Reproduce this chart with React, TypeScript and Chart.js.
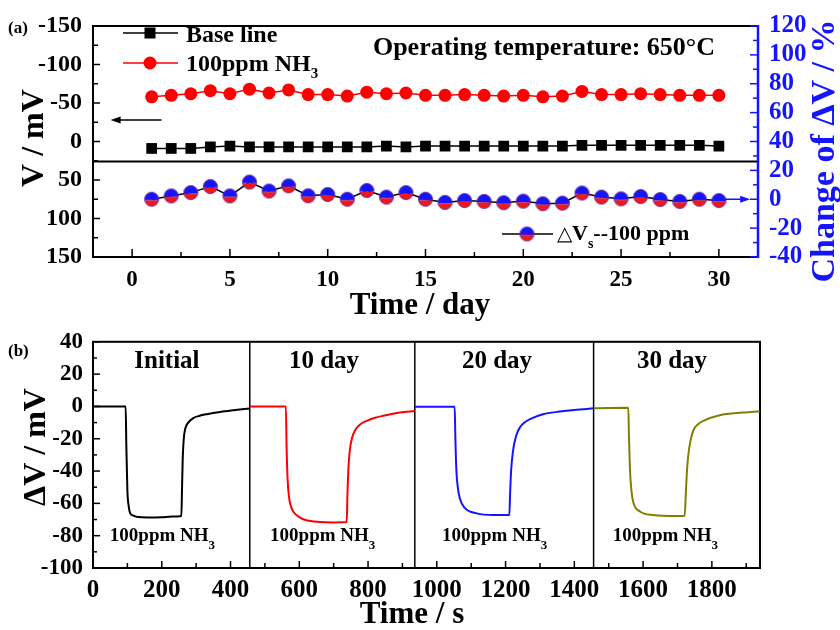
import React, { useEffect, useRef } from "react";
import { Chart, registerables } from "chart.js";
Chart.register(...registerables);

// ---------- Panel (a) data ----------
const DAYS = [1, 2, 3, 4, 5, 6, 7, 8, 9, 10, 11, 12, 13, 14, 15, 16, 17, 18, 19, 20, 21, 22, 23, 24, 25, 26, 27, 28, 29, 30];
const BASELINE_MV = [9, 9, 9, 7, 6, 7, 7, 7, 7, 7, 7, 7, 6, 7, 6, 6, 6, 6, 6, 6, 6, 6, 5, 5, 5, 5, 5, 5, 5, 6];
const NH3_MV = [-58, -60, -62, -66, -62, -68, -63, -67, -61, -61, -59, -64, -62, -63, -60, -60, -61, -60, -59, -60, -58, -59, -65, -61, -61, -62, -61, -60, -60, -60];
const DELTA_VS_PCT = [0, 2.3, 4.6, 8.8, 2.3, 11.9, 5.7, 9.3, 2.4, 3.3, 0, 6.1, 1.5, 4.6, 0, -2.2, -0.9, -1.5, -2.4, -1.3, -3.1, -2.7, 4.3, 1.5, 0.3, 1.9, -0.2, -1.5, 0, -0.9];
const DAY_TICKS = [0, 5, 10, 15, 20, 25, 30];
const MV_TICKS = [-150, -100, -50, 0, 50, 100, 150];
const PCT_TICKS = [-40, -20, 0, 20, 40, 60, 80, 100, 120];
const DIVIDER_MV = 26;
const LEFT_ARROW = { fromDay: 1.5, toDay: -1.1, mv: -28 };
const RIGHT_ARROW = { fromDay: 30, toDay: 31.6, pct: 0 };

// ---------- Panel (b) data ----------
const INITIAL_T = [0, 50, 95, 97, 100, 104, 108, 116, 130, 160, 200, 230, 257, 259, 261, 264, 268, 277, 292, 310, 331, 370, 408, 456];
const INITIAL_V = [0, 0, 0, -25, -52, -62, -66, -67.5, -68.5, -68.8, -68.6, -68.2, -67.8, -50, -32, -20, -14, -10, -7.2, -5.8, -4.8, -3.4, -2.4, -1.3];
const DAY10_T = [456, 500, 561, 563, 566, 570, 576, 584, 600, 621, 660, 698, 738, 740, 743, 747, 754, 762, 778, 796, 820, 844, 893, 936];
const DAY10_V = [0, 0, 0, -25, -45, -56, -62, -65.5, -68.5, -70.5, -71.5, -71.8, -71.6, -55, -38, -27, -19, -14.9, -11, -8.9, -7, -5.8, -3.8, -2.8];
const DAY20_T = [936, 1000, 1052, 1054, 1057, 1061, 1067, 1082, 1116, 1164, 1211, 1213, 1216, 1222, 1231, 1242, 1256, 1271, 1309, 1358, 1400, 1456];
const DAY20_V = [-0.2, -0.2, -0.2, -20, -40, -50, -57, -63, -66.2, -67.2, -67.2, -55, -40, -27, -18, -12.9, -9.8, -7.8, -4.8, -3.2, -2.2, -1.2];
const DAY30_T = [1456, 1500, 1557, 1559, 1562, 1566, 1571, 1591, 1629, 1697, 1721, 1724, 1727, 1731, 1738, 1746, 1760, 1775, 1823, 1891, 1939];
const DAY30_V = [-1.2, -0.9, -0.8, -20, -40, -52, -59, -65, -67.2, -67.8, -67.6, -55, -42, -31, -21, -14.9, -11, -8.9, -5.4, -3.8, -3.0];
const TIME_TICKS = [0, 200, 400, 600, 800, 1000, 1200, 1400, 1600, 1800];
const DV_TICKS = [-100, -80, -60, -40, -20, 0, 20, 40];
const PANEL_SEPARATORS_S = [456, 936, 1456];
const PANEL_LABELS = ["Initial", "10 day", "20 day", "30 day"];
const PANEL_LABEL_T = [215, 672, 1175, 1684];
const NH3_LABEL_T = [49, 515, 1015, 1512];

const FONT = "'Liberation Serif', 'Times New Roman', serif";
const BLUE = "#1414ff";
const RED = "#ff0000";
const OLIVE = "#808000";

type Part = { text: string; size: number; bold?: boolean; dy?: number };

function drawRich(ctx: CanvasRenderingContext2D, parts: Part[], x: number, y: number, align: "left" | "center" | "right", color: string) {
  ctx.save();
  ctx.fillStyle = color;
  ctx.textBaseline = "alphabetic";
  ctx.textAlign = "left";
  let w = 0;
  for (const p of parts) {
    ctx.font = `${p.bold === false ? "" : "bold "}${p.size}px ${FONT}`;
    w += ctx.measureText(p.text).width;
  }
  let cx = align === "center" ? x - w / 2 : align === "right" ? x - w : x;
  for (const p of parts) {
    ctx.font = `${p.bold === false ? "" : "bold "}${p.size}px ${FONT}`;
    ctx.fillText(p.text, cx, y + (p.dy || 0));
    cx += ctx.measureText(p.text).width;
  }
  ctx.restore();
}

function drawRotated(ctx: CanvasRenderingContext2D, text: string, x: number, y: number, size: number, color: string) {
  ctx.save();
  ctx.translate(x, y);
  ctx.rotate(-Math.PI / 2);
  ctx.fillStyle = color;
  ctx.font = `bold ${size}px ${FONT}`;
  ctx.textAlign = "center";
  ctx.textBaseline = "alphabetic";
  ctx.fillText(text, 0, 0);
  ctx.restore();
}

function line(ctx: CanvasRenderingContext2D, x1: number, y1: number, x2: number, y2: number) {
  ctx.beginPath();
  ctx.moveTo(x1, y1);
  ctx.lineTo(x2, y2);
  ctx.stroke();
}

function arrow(ctx: CanvasRenderingContext2D, x1: number, x2: number, y: number, color: string) {
  ctx.save();
  ctx.strokeStyle = color;
  ctx.fillStyle = color;
  ctx.lineWidth = 1.5;
  const dir = Math.sign(x2 - x1);
  line(ctx, x1, y, x2 - dir * 6, y);
  ctx.beginPath();
  ctx.moveTo(x2, y);
  ctx.lineTo(x2 - dir * 10, y - 3.5);
  ctx.lineTo(x2 - dir * 10, y + 3.5);
  ctx.closePath();
  ctx.fill();
  ctx.restore();
}

function makeHalfMarker(r: number): HTMLCanvasElement {
  const s = Math.ceil(r * 2 + 3);
  const c = document.createElement("canvas");
  c.width = s;
  c.height = s;
  const g = c.getContext("2d")!;
  const m = s / 2;
  g.save();
  g.beginPath();
  g.arc(m, m, r, 0, Math.PI * 2);
  g.clip();
  g.fillStyle = BLUE;
  g.fillRect(0, 0, s, m + 1);
  g.fillStyle = "#f01818";
  g.fillRect(0, m + 1, s, s);
  g.restore();
  g.strokeStyle = "#6a2a9a";
  g.lineWidth = 1;
  g.beginPath();
  g.arc(m, m, r, 0, Math.PI * 2);
  g.stroke();
  return c;
}

function drawSquare(ctx: CanvasRenderingContext2D, x: number, y: number, s: number) {
  ctx.fillRect(x - s / 2, y - s / 2, s, s);
}

const tickFont = (size: number) => ({ family: FONT, size, weight: "bold" as const });
const plain = (v: any) => String(v);

export default function App() {
  const topRef = useRef<HTMLCanvasElement>(null);
  const botRef = useRef<HTMLCanvasElement>(null);

  useEffect(() => {
    document.body.style.margin = "0";
    const half = makeHalfMarker(7);

    const topDecor = {
      id: "topDecor",
      beforeDatasetsDraw(chart: any) {
        const { ctx, chartArea: a, scales } = chart;
        const x = scales.x, y = scales.y, y2 = scales.y2;
        ctx.save();
        ctx.strokeStyle = "#000";
        ctx.lineWidth = 2;
        ctx.beginPath();
        ctx.moveTo(a.right, a.top);
        ctx.lineTo(a.left, a.top);
        ctx.lineTo(a.left, a.bottom);
        ctx.lineTo(a.right, a.bottom);
        ctx.stroke();
        const yd = y.getPixelForValue(DIVIDER_MV);
        line(ctx, a.left, yd, a.right, yd);
        ctx.lineWidth = 1.5;
        for (let v = -150; v <= 150; v += 25) {
          const py = y.getPixelForValue(v);
          line(ctx, a.left, py, a.left + (v % 50 === 0 ? 7 : 5), py);
        }
        for (let d = 0; d <= 30; d += 2.5) {
          const px = x.getPixelForValue(d);
          line(ctx, px, a.bottom, px, a.bottom - (d % 5 === 0 ? 8 : 5));
        }
        ctx.strokeStyle = BLUE;
        for (let v = -40; v <= 120; v += 10) {
          const py = y2.getPixelForValue(v);
          line(ctx, a.right, py, a.right - (v % 20 === 0 ? 8 : 5), py);
        }
        ctx.lineWidth = 2.5;
        line(ctx, a.right, a.top - 1, a.right, a.bottom + 1);
        ctx.restore();
      },
      afterDraw(chart: any) {
        const { ctx, scales } = chart;
        const x = scales.x, y = scales.y, y2 = scales.y2;
        arrow(ctx, x.getPixelForValue(LEFT_ARROW.fromDay), x.getPixelForValue(LEFT_ARROW.toDay), y.getPixelForValue(LEFT_ARROW.mv), "#000");
        arrow(ctx, x.getPixelForValue(RIGHT_ARROW.fromDay), x.getPixelForValue(RIGHT_ARROW.toDay), y2.getPixelForValue(RIGHT_ARROW.pct), BLUE);
        ctx.save();
        ctx.strokeStyle = "#000";
        ctx.lineWidth = 1.5;
        line(ctx, 123, 33, 178, 33);
        ctx.fillStyle = "#000";
        drawSquare(ctx, 150, 33, 11);
        ctx.strokeStyle = RED;
        line(ctx, 123, 63, 178, 63);
        ctx.fillStyle = RED;
        ctx.beginPath();
        ctx.arc(150, 63, 6.5, 0, Math.PI * 2);
        ctx.fill();
        ctx.restore();
        drawRich(ctx, [{ text: "Base line", size: 24 }], 186, 42, "left", "#000");
        drawRich(ctx, [{ text: "100ppm NH", size: 24 }, { text: "3", size: 15, dy: 7 }], 186, 71, "left", "#000");
        drawRich(ctx, [{ text: "Operating temperature: 650°C", size: 26 }], 715, 55, "right", "#000");
        ctx.save();
        ctx.strokeStyle = "#000";
        ctx.lineWidth = 1.5;
        line(ctx, 502, 234, 553, 234);
        ctx.drawImage(half, 527 - half.width / 2, 234 - half.height / 2);
        ctx.restore();
        drawRich(ctx, [
          { text: "△", size: 20, bold: false },
          { text: "V", size: 22 },
          { text: "s", size: 14, dy: 8 },
          { text: "--100 ppm", size: 22 },
        ], 557, 240, "left", "#000");
        drawRich(ctx, [{ text: "(a)", size: 17 }], 8, 33, "left", "#000");
        drawRotated(ctx, "V / mV", 43, 138, 32, "#000");
        drawRotated(ctx, "Change of ΔV / %", 834, 151, 34, BLUE);
        drawRich(ctx, [{ text: "Time / day", size: 31 }], 420, 314, "center", "#000");
      },
    };

    const top = new Chart(topRef.current!, {
      type: "line",
      data: {
        datasets: [
          {
            label: "Base line",
            data: DAYS.map((d, i) => ({ x: d, y: BASELINE_MV[i] })),
            yAxisID: "y",
            borderColor: "#000",
            backgroundColor: "#000",
            borderWidth: 1.5,
            pointStyle: "rect",
            pointRadius: 7.6,
            pointBorderWidth: 0,
          },
          {
            label: "100ppm NH3",
            data: DAYS.map((d, i) => ({ x: d, y: NH3_MV[i] })),
            yAxisID: "y",
            borderColor: RED,
            backgroundColor: RED,
            borderWidth: 1.5,
            pointStyle: "circle",
            pointRadius: 6.5,
            pointBorderWidth: 0,
          },
          {
            label: "ΔVs--100 ppm",
            data: DAYS.map((d, i) => ({ x: d, y: DELTA_VS_PCT[i] })),
            yAxisID: "y2",
            borderColor: "#000",
            backgroundColor: BLUE,
            borderWidth: 1.5,
            pointStyle: half as any,
            pointRadius: 7,
          },
        ],
      },
      options: {
        responsive: false,
        animation: false,
        events: [],
        layout: { padding: { top: 24, left: 0, right: 0, bottom: 0 } },
        plugins: { legend: { display: false }, tooltip: { enabled: false } },
        scales: {
          x: {
            type: "linear",
            min: -2,
            max: 32,
            grid: { display: false, drawTicks: false },
            border: { display: false },
            ticks: { padding: 9, color: "#000", font: tickFont(23), maxRotation: 0, autoSkip: false, callback: plain },
            afterBuildTicks: (s: any) => { s.ticks = DAY_TICKS.map((v) => ({ value: v })); },
            afterFit: (s: any) => { s.height = 73; },
          },
          y: {
            type: "linear",
            position: "left",
            reverse: true,
            min: -150,
            max: 150,
            grid: { display: false, drawTicks: false },
            border: { display: false },
            ticks: { padding: 11, color: "#000", font: tickFont(24), autoSkip: false, callback: plain },
            afterBuildTicks: (s: any) => { s.ticks = MV_TICKS.map((v) => ({ value: v })); },
            afterFit: (s: any) => { s.width = 93; },
          },
          y2: {
            type: "linear",
            position: "right",
            min: -40,
            max: 120,
            grid: { display: false, drawTicks: false },
            border: { display: false },
            ticks: { padding: 11, color: BLUE, font: tickFont(25), autoSkip: false, callback: plain },
            afterBuildTicks: (s: any) => { s.ticks = PCT_TICKS.map((v) => ({ value: v })); },
            afterFit: (s: any) => { s.width = 82; },
          },
        },
      },
      plugins: [topDecor],
    });

    const OFF = 318;
    const botDecor = {
      id: "botDecor",
      beforeDatasetsDraw(chart: any) {
        const { ctx, chartArea: a, scales } = chart;
        const x = scales.x, y = scales.y;
        ctx.save();
        ctx.strokeStyle = "#000";
        ctx.lineWidth = 1.5;
        for (let v = -100; v <= 40; v += 10) {
          const py = y.getPixelForValue(v);
          line(ctx, a.left, py, a.left + (v % 20 === 0 ? 7 : 4), py);
        }
        for (let t = 0; t <= 1900; t += 100) {
          const px = x.getPixelForValue(t);
          line(ctx, px, a.bottom, px, a.bottom - (t % 200 === 0 ? 7 : 5));
        }
        for (const s of PANEL_SEPARATORS_S) {
          const px = x.getPixelForValue(s);
          line(ctx, px, a.top, px, a.bottom);
        }
        ctx.lineWidth = 2;
        ctx.strokeRect(a.left, a.top, a.right - a.left, a.bottom - a.top);
        ctx.restore();
      },
      afterDraw(chart: any) {
        const { ctx, scales } = chart;
        const x = scales.x;
        PANEL_LABELS.forEach((lab, i) => {
          drawRich(ctx, [{ text: lab, size: 25 }], x.getPixelForValue(PANEL_LABEL_T[i]), 368 - OFF, "center", "#000");
          drawRich(ctx, [{ text: "100ppm NH", size: 19 }, { text: "3", size: 13, dy: 8 }], x.getPixelForValue(NH3_LABEL_T[i]), 541 - OFF, "left", "#000");
        });
        drawRich(ctx, [{ text: "(b)", size: 17 }], 8, 356 - OFF, "left", "#000");
        drawRotated(ctx, "ΔV / mV", 45, 447 - OFF, 32, "#000");
        drawRich(ctx, [{ text: "Time / s", size: 31 }], 412, 623 - OFF, "center", "#000");
      },
    };

    const mk = (ts: number[], vs: number[]) => ts.map((t, i) => ({ x: t, y: vs[i] }));
    const lineDs = (label: string, ts: number[], vs: number[], color: string) => ({
      label,
      data: mk(ts, vs),
      borderColor: color,
      backgroundColor: color,
      borderWidth: 2,
      pointRadius: 0,
      cubicInterpolationMode: "monotone" as const,
    });

    const bot = new Chart(botRef.current!, {
      type: "line",
      data: {
        datasets: [
          lineDs("Initial", INITIAL_T, INITIAL_V, "#000"),
          lineDs("10 day", DAY10_T, DAY10_V, RED),
          lineDs("20 day", DAY20_T, DAY20_V, BLUE),
          lineDs("30 day", DAY30_T, DAY30_V, OLIVE),
        ],
      },
      options: {
        responsive: false,
        animation: false,
        events: [],
        layout: { padding: { top: 18, left: 0, right: 80, bottom: 0 } },
        plugins: { legend: { display: false }, tooltip: { enabled: false } },
        scales: {
          x: {
            type: "linear",
            min: 0,
            max: 1940,
            grid: { display: false, drawTicks: false },
            border: { display: false },
            ticks: { padding: 8, color: "#000", font: tickFont(25), maxRotation: 0, autoSkip: false, callback: plain },
            afterBuildTicks: (s: any) => { s.ticks = TIME_TICKS.map((v) => ({ value: v })); },
            afterFit: (s: any) => { s.height = 62; },
          },
          y: {
            type: "linear",
            min: -100,
            max: 40,
            grid: { display: false, drawTicks: false },
            border: { display: false },
            ticks: { padding: 10, color: "#000", font: tickFont(23), autoSkip: false, callback: plain },
            afterBuildTicks: (s: any) => { s.ticks = DV_TICKS.map((v) => ({ value: v })); },
            afterFit: (s: any) => { s.width = 93; },
          },
        },
      },
      plugins: [botDecor],
    });

    return () => {
      top.destroy();
      bot.destroy();
    };
  }, []);

  return (
    <div style={{ position: "relative", width: 840, height: 630, background: "#fff" }}>
      <canvas ref={topRef} width={840} height={330} style={{ position: "absolute", left: 0, top: 0 }} />
      <canvas ref={botRef} width={840} height={312} style={{ position: "absolute", left: 0, top: 318 }} />
    </div>
  );
}
